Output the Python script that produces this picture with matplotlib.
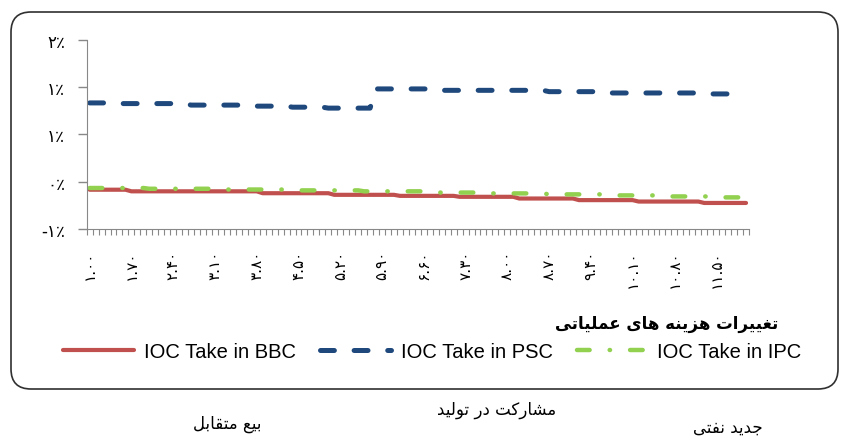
#!/usr/bin/env python3
import numpy as np
import matplotlib
matplotlib.use('Agg')
import matplotlib.pyplot as plt
from matplotlib.patches import FancyBboxPatch

'''
IOC take under BBC / PSC / IPC contracts vs change in operating costs
'''

# categories: operating cost factor 1.0 .. 12.0 (step 0.1)
categories = np.round(np.arange(10, 121) / 10.0, 1)

# values in percent
bbc = [-0.085, -0.085, -0.085, -0.085, -0.085, -0.085, -0.085, -0.102, -0.102, -0.102,
       -0.102, -0.102, -0.102, -0.102, -0.102, -0.102, -0.102, -0.102, -0.102, -0.102,
       -0.102, -0.102, -0.102, -0.102, -0.102, -0.102, -0.102, -0.102, -0.102, -0.122,
       -0.122, -0.122, -0.122, -0.122, -0.122, -0.122, -0.122, -0.122, -0.122, -0.122,
       -0.122, -0.139, -0.139, -0.139, -0.139, -0.139, -0.139, -0.139, -0.139, -0.139,
       -0.139, -0.139, -0.150, -0.150, -0.150, -0.150, -0.150, -0.150, -0.150, -0.150,
       -0.150, -0.150, -0.160, -0.160, -0.160, -0.160, -0.160, -0.160, -0.160, -0.160,
       -0.160, -0.160, -0.178, -0.178, -0.178, -0.178, -0.178, -0.178, -0.178, -0.178,
       -0.178, -0.178, -0.195, -0.195, -0.195, -0.195, -0.195, -0.195, -0.195, -0.195,
       -0.195, -0.195, -0.210, -0.210, -0.210, -0.210, -0.210, -0.210, -0.210, -0.210,
       -0.210, -0.210, -0.210, -0.225, -0.225, -0.225, -0.225, -0.225, -0.225, -0.225,
       -0.225]

psc = [0.832, 0.832, 0.832, 0.832, 0.832, 0.825, 0.825, 0.825, 0.825, 0.825,
       0.825, 0.825, 0.825, 0.825, 0.825, 0.825, 0.825, 0.809, 0.809, 0.809,
       0.809, 0.809, 0.809, 0.809, 0.809, 0.809, 0.809, 0.809, 0.798, 0.798,
       0.798, 0.798, 0.798, 0.798, 0.787, 0.787, 0.787, 0.787, 0.787, 0.787,
       0.777, 0.777, 0.777, 0.777, 0.777, 0.777, 0.777, 0.777, 0.980, 0.980,
       0.980, 0.980, 0.980, 0.980, 0.980, 0.980, 0.980, 0.980, 0.965, 0.965,
       0.965, 0.965, 0.965, 0.965, 0.965, 0.965, 0.965, 0.965, 0.965, 0.965,
       0.965, 0.965, 0.965, 0.965, 0.965, 0.965, 0.965, 0.951, 0.951, 0.951,
       0.951, 0.951, 0.951, 0.951, 0.951, 0.951, 0.951, 0.937, 0.937, 0.937,
       0.937, 0.937, 0.937, 0.937, 0.937, 0.937, 0.937, 0.937, 0.937, 0.937,
       0.937, 0.937, 0.937, 0.927, 0.927, 0.927, 0.927, 0.927, 0.927, 0.927,
       0.927]

ipc = [-0.067, -0.067, -0.067, -0.067, -0.067, -0.067, -0.067, -0.067, -0.067, -0.067,
       -0.075, -0.075, -0.075, -0.075, -0.075, -0.075, -0.075, -0.075, -0.075, -0.075,
       -0.075, -0.075, -0.083, -0.083, -0.083, -0.083, -0.083, -0.083, -0.083, -0.083,
       -0.083, -0.083, -0.083, -0.083, -0.092, -0.092, -0.092, -0.092, -0.092, -0.092,
       -0.092, -0.092, -0.092, -0.092, -0.092, -0.092, -0.102, -0.102, -0.102, -0.102,
       -0.102, -0.102, -0.102, -0.102, -0.102, -0.102, -0.102, -0.102, -0.115, -0.115,
       -0.115, -0.115, -0.115, -0.115, -0.115, -0.115, -0.115, -0.124, -0.124, -0.124,
       -0.124, -0.124, -0.124, -0.124, -0.124, -0.124, -0.124, -0.134, -0.134, -0.134,
       -0.134, -0.134, -0.134, -0.134, -0.134, -0.134, -0.134, -0.145, -0.145, -0.145,
       -0.145, -0.145, -0.145, -0.145, -0.145, -0.145, -0.156, -0.156, -0.156, -0.156,
       -0.156, -0.156, -0.156, -0.156, -0.156, -0.166, -0.166, -0.166, -0.166, -0.166,
       -0.166]

series_names = ['IOC Take in BBC', 'IOC Take in PSC', 'IOC Take in IPC']
y_ticks = [-0.5, 0.0, 0.5, 1.0, 1.5]
y_ticklabels = ['-۱٪', '۰٪', '۱٪', '۱٪', '۲٪']
x_title = 'تغییرات هزینه های عملیاتی'
footer = ['بیع متقابل', 'مشارکت در تولید', 'جدید نفتی']

# minimal persian shaping (matplotlib has no bidi / joining)
FORMS = {
    'ا': ('\uFE8D', '\uFE8E', None, None),
    'ب': ('\uFE8F', '\uFE90', '\uFE91', '\uFE92'),
    'ت': ('\uFE95', '\uFE96', '\uFE97', '\uFE98'),
    'ج': ('\uFE9D', '\uFE9E', '\uFE9F', '\uFEA0'),
    'د': ('\uFEA9', '\uFEAA', None, None),
    'ر': ('\uFEAD', '\uFEAE', None, None),
    'ز': ('\uFEAF', '\uFEB0', None, None),
    'ش': ('\uFEB5', '\uFEB6', '\uFEB7', '\uFEB8'),
    'ع': ('\uFEC9', '\uFECA', '\uFECB', '\uFECC'),
    'غ': ('\uFECD', '\uFECE', '\uFECF', '\uFED0'),
    'ف': ('\uFED1', '\uFED2', '\uFED3', '\uFED4'),
    'ق': ('\uFED5', '\uFED6', '\uFED7', '\uFED8'),
    'ک': ('\uFB8E', '\uFB8F', '\uFB90', '\uFB91'),
    'ل': ('\uFEDD', '\uFEDE', '\uFEDF', '\uFEE0'),
    'م': ('\uFEE1', '\uFEE2', '\uFEE3', '\uFEE4'),
    'ن': ('\uFEE5', '\uFEE6', '\uFEE7', '\uFEE8'),
    'ه': ('\uFEE9', '\uFEEA', '\uFEEB', '\uFEEC'),
    'و': ('\uFEED', '\uFEEE', None, None),
    'ی': ('\uFBFC', '\uFBFD', '\uFBFE', '\uFBFF'),
}


def fa(text):
    out = []
    for i, ch in enumerate(text):
        if ch not in FORMS:
            out.append(ch)
            continue
        prev = text[i - 1] if i > 0 else ''
        nxt = text[i + 1] if i + 1 < len(text) else ''
        jp = prev in FORMS and FORMS[prev][2] is not None
        iso, fin, ini, med = FORMS[ch]
        jn = ini is not None and nxt in FORMS
        if jp and jn:
            out.append(med)
        elif jp:
            out.append(fin)
        elif jn:
            out.append(ini)
        else:
            out.append(iso)
    return ''.join(reversed(out))


def fa_digits(s):
    return s.translate(str.maketrans('0123456789', '۰۱۲۳۴۵۶۷۸۹'))


plt.rcParams['lines.scale_dashes'] = False
FA_FONT = ['DejaVu Sans']
EN_FONT = ['Liberation Sans', 'DejaVu Sans']

fig = plt.figure(figsize=(8.43, 4.39), dpi=100)
ax = fig.add_axes([0.1028, 0.4761, 0.7857, 0.4312])

x = np.arange(len(categories))
l1, = ax.plot(x, bbc, color='#C0504D', lw=3.0, solid_capstyle='round')
l2, = ax.plot(x, psc, color='#1F497D', lw=3.6, dashes=(10, 14.2),
              dash_capstyle='round')
l3, = ax.plot(x, ipc, color='#92D050', lw=3.2, dashes=(9.1, 14.4, 0.3, 14.4),
              dash_capstyle='round')

ax.set_xlim(-0.5, len(categories) - 0.5)
ax.set_ylim(-0.5, 1.5)
ax.set_yticks(y_ticks)
ax.set_yticklabels(y_ticklabels, family=FA_FONT, fontsize=12)
ax.tick_params(axis='y', length=6.5, width=1, color='#888888', pad=9)

ax.set_xticks(x[::7])
ax.set_xticklabels([fa_digits('%.2f' % v) for v in categories[::7]],
                   rotation=90, family=FA_FONT, fontsize=11, va='top')
ax.tick_params(axis='x', which='major', length=0, pad=15)
ax.set_xticks(np.arange(-0.5, len(categories), 1), minor=True)
ax.tick_params(axis='x', which='minor', length=4.5, width=0.8, color='#888888')

for s in ['top', 'right']:
    ax.spines[s].set_visible(False)
for s in ['left', 'bottom']:
    ax.spines[s].set_color('#888888')

fig.text(0.923, 0.262, fa(x_title), family=FA_FONT, fontsize=12,
         fontweight='bold', ha='right', va='center')

fig.legend([l1, l2, l3], series_names, loc='center', bbox_to_anchor=(0.513, 0.198),
           ncol=3, frameon=False, handlelength=3.5, handletextpad=0.5,
           columnspacing=1.2, prop={'family': EN_FONT, 'size': 14.5})

# rounded chart frame
frame = FancyBboxPatch((0.11, 0.49), 8.27, 3.77,
                       boxstyle='round,pad=0,rounding_size=0.2',
                       transform=fig.dpi_scale_trans, fill=False,
                       edgecolor='#303030', lw=1.2)
fig.add_artist(frame)

fig.text(227 / 843, 1 - 424 / 439, fa(footer[0]), family=FA_FONT, fontsize=12,
         ha='center', va='center')
fig.text(497 / 843, 1 - 410 / 439, fa(footer[1]), family=FA_FONT, fontsize=12,
         ha='center', va='center')
fig.text(728 / 843, 1 - 428 / 439, fa(footer[2]), family=FA_FONT, fontsize=12,
         ha='center', va='center')

fig.savefig('out.png', dpi=100)
